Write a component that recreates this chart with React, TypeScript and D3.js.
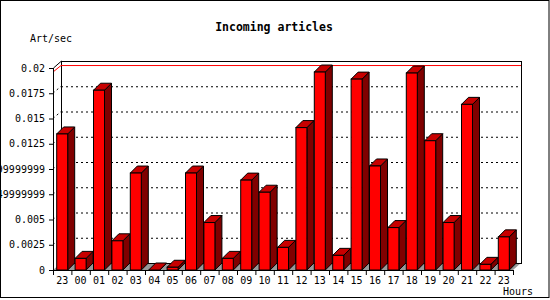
import React from "react";
import * as d3 from "d3";

const hours = ["23","00","01","02","03","04","05","06","07","08","09","10","11","12","13","14","15","16","17","18","19","20","21","22","23"];
const values = [0.01347,0.00115,0.0178,0.00289,0.0096,0,0.00027,0.0096,0.0047,0.00115,0.0089,0.0077,0.00224,0.0141,0.0196,0.00145,0.0189,0.0103,0.0042,0.0195,0.0128,0.0047,0.0164,0.00056,0.00328];
const yTicks = [0,0.0025,0.005,0.0075,0.01,0.0125,0.015,0.0175,0.02];
const yTickLabels = ["0","0.0025","0.005","0.00749999999","0.0099999999","0.0125","0.015","0.0175","0.02"];
const title = "Incoming articles";
const yTitle = "Art/sec";
const xTitle = "Hours";

const FONT = "'DejaVu Sans Mono', monospace";

export default function App() {
  const x = d3.scaleBand<number>().domain(d3.range(values.length)).range([53, 513]).padding(0);
  const y = d3.scaleLinear().domain([0, 0.02]).range([270, 68]);
  const wdx = 8, wdy = 7; // wall depth
  const bdx = 7, bdy = 7; // bar depth
  const bw = 11;
  const x0 = 53, x1 = 513, yb = y(0), yt = y(0.02);
  const maxV = d3.max(values) as number;

  return (
    <svg width={550} height={300} style={{ position: "absolute", left: 0, top: 0, background: "#fff" }}>
      <rect x={0.5} y={0.5} width={548.5} height={297} fill="#fff" stroke="#000" />
      <text x={274} y={31} textAnchor="middle" fontFamily={FONT} fontWeight="bold" fontSize={11.5}>{title}</text>
      <text x={30} y={42} fontFamily={FONT} fontSize={10}>{yTitle}</text>
      {/* floor */}
      <polygon points={`${x0},${yb} ${x1},${yb} ${x1 + wdx},${yb - wdy} ${x0 + wdx},${yb - wdy}`} fill="#999" stroke="none" />
      {/* back wall */}
      <rect x={x0 + wdx + 0.5} y={yt - wdy + 0.5} width={x1 - x0} height={yb - yt} fill="#fff" stroke="#000" />
      {/* grid */}
      {yTicks.slice(1, -1).map((t, i) => (
        <g key={i}>
          <line x1={x0 + wdx} x2={x1 + wdx} y1={y(t) - wdy + 0.5} y2={y(t) - wdy + 0.5} stroke="#000" strokeDasharray="2 3" />
          <line x1={x0} x2={x0 + wdx} y1={y(t)} y2={y(t) - wdy} stroke="#000" strokeDasharray="2 3" />
        </g>
      ))}
      {/* max line */}
      <polyline points={`${x0},${y(maxV)} ${x0 + wdx},${y(maxV) - wdy + 0.5} ${x1 + wdx},${y(maxV) - wdy + 0.5}`} fill="none" stroke="#ff0000" />
      {/* left wall edges */}
      <line x1={x0 + 0.5} x2={x0 + wdx + 0.5} y1={yt} y2={yt - wdy} stroke="#000" />
      <line x1={x0 + 0.5} x2={x0 + 0.5} y1={yt} y2={yb} stroke="#000" />
      {/* bars */}
      {values.map((v, i) => {
        const bx = (x(i) as number) + (x.bandwidth() - bw) / 2;
        const ty = y(v);
        return (
          <g key={i} stroke="#000" strokeWidth={1} strokeLinejoin="miter">
            <polygon points={`${bx + bw},${ty} ${bx + bw + bdx},${ty - bdy} ${bx + bw + bdx},${yb - bdy} ${bx + bw},${yb}`} fill="#800000" />
            <polygon points={`${bx},${ty} ${bx + bdx},${ty - bdy} ${bx + bw + bdx},${ty - bdy} ${bx + bw},${ty}`} fill="#c80000" />
            {v > 0 && <rect x={bx} y={ty} width={bw} height={yb - ty} fill="#ff0000" />}
          </g>
        );
      })}
      {/* x axis */}
      <line x1={x0} x2={x1} y1={yb + 0.5} y2={yb + 0.5} stroke="#000" />
      {d3.range(values.length + 1).map((i) => {
        const tx = x0 + i * x.bandwidth();
        return <line key={i} x1={tx + 0.5} x2={tx + 0.5} y1={yb} y2={yb + 5} stroke="#000" />;
      })}
      {hours.map((h, i) => (
        <text key={i} x={(x(i) as number) + x.bandwidth() / 2} y={284} textAnchor="middle" fontFamily={FONT} fontSize={10}>{h}</text>
      ))}
      <text x={533} y={295} textAnchor="end" fontFamily={FONT} fontSize={10}>{xTitle}</text>
      {/* y axis ticks */}
      {yTicks.map((t, i) => (
        <g key={i}>
          <line x1={49} x2={53} y1={y(t) + 0.5} y2={y(t) + 0.5} stroke="#000" />
          <text x={45} y={y(t) + 3.5} textAnchor="end" fontFamily={FONT} fontSize={10}>{yTickLabels[i]}</text>
        </g>
      ))}
    </svg>
  );
}
